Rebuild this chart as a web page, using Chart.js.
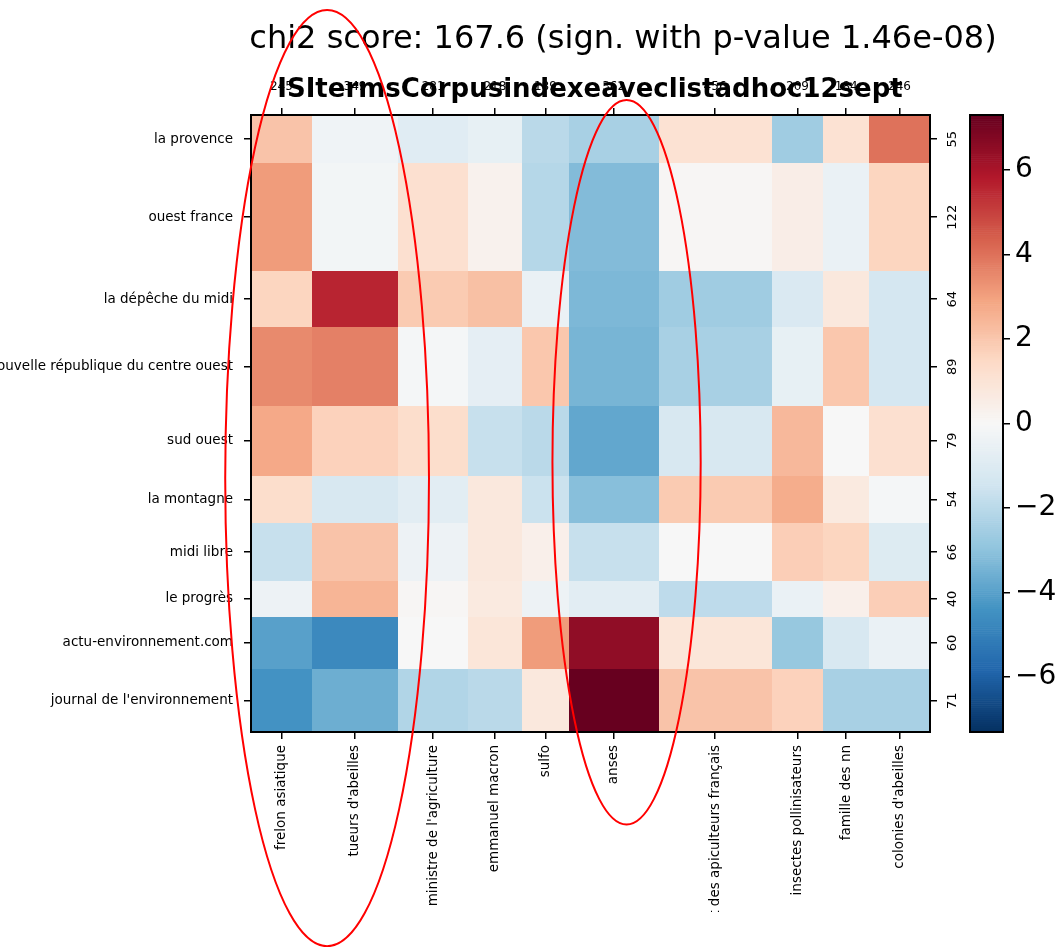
<!DOCTYPE html>
<html>
<head>
<meta charset="utf-8">
<script src="https://cdn.jsdelivr.net/npm/chart.js@4.4.1/dist/chart.umd.min.js"></script>
<style>
  body { margin: 0; background: #fff; }
  canvas { display: block; }
</style>
</head>
<body>
<canvas id="myChart" width="1061" height="947"></canvas>
<script>
// rows = newspapers, cols = terms
const rowLabels = ['la provence', 'ouest france', 'la dépêche du midi', 'nouvelle république du centre ouest',
  'sud ouest', 'la montagne', 'midi libre', 'le progrès', 'actu-environnement.com', "journal de l'environnement"]
const rowTotals = [55, 122, 64, 89, 79, 54, 66, 40, 60, 71]

const colLabels = ['frelon asiatique', "tueurs d'abeilles", "ministre de l'agriculture", 'emmanuel macron', 'sulfo',
  'anses', 'syndicat des apiculteurs français', 'insectes pollinisateurs', 'famille des nn', "colonies d'abeilles"]
const colTotals = [245, 349, 281, 218, 189, 362, 456, 209, 184, 246]

// standardized residuals, one list per row
const residuals = [
  [2.1, -0.3, -0.9, -0.6, -2.0, -2.4, 1.1, -2.6, 1.1, 4.0],
  [3.1, -0.2, 1.2, 0.3, -2.1, -3.2, 0.1, 0.5, -0.5, 1.6],
  [1.6, 5.6, 1.9, 2.2, -0.5, -3.3, -2.6, -1.1, 0.8, -1.3],
  [3.5, 3.7, -0.1, -0.7, 2.0, -3.4, -2.4, -0.6, 2.0, -1.3],
  [2.8, 1.7, 1.3, -1.7, -2.0, -3.8, -1.2, 2.4, 0.0, 1.2],
  [1.3, -1.2, -0.8, 0.8, -1.6, -3.1, 1.9, 2.7, 0.7, -0.1],
  [-1.7, 2.1, -0.4, 0.8, 0.4, -1.7, 0.0, 1.8, 1.6, -1.0],
  [-0.4, 2.5, 0.1, 0.7, -0.4, -0.8, -1.9, -0.5, 0.4, 1.8],
  [-4.0, -4.7, 0.0, 0.9, 3.1, 6.5, 0.9, -2.8, -1.2, -0.5],
  [-4.4, -3.6, -2.2, -2.0, 0.8, 7.3, 2.1, 1.7, -2.4, -2.4]
]

const vmax = 7.3
const cbTicks = [-6, -4, -2, 0, 2, 4, 6]

const title = 'chi2 score: 167.6 (sign. with p-value 1.46e-08)'
const subtitle = 'ISItermsCorpusindexeaveclistadhoc12sept'

// hand drawn red rings (in axis units)
const rings = [
  { cx: 307, cy: 412, rx: 411, ry: 531 },
  { cx: 1515, cy: 394, rx: 299, ry: 411 }
]

const font = 'DejaVu Sans'

function cumCenters(arr) {
  let s = 0
  return arr.map(v => { const c = s + v / 2; s += v; return c })
}
const colCenters = cumCenters(colTotals)
const rowCenters = cumCenters(rowTotals)
const totalCols = colTotals.reduce((a, b) => a + b, 0)
const totalRows = rowTotals.reduce((a, b) => a + b, 0)

// RdBu_r
const rdbu = ['#053061', '#2166ac', '#4393c3', '#92c5de', '#d1e5f0', '#f7f7f7',
  '#fddbc7', '#f4a582', '#d6604d', '#b2182b', '#67001f']
function hex(c) { return [1, 3, 5].map(i => parseInt(c.substr(i, 2), 16)) }
const rdbuRgb = rdbu.map(hex)
function colorFor(v) {
  let t = (v + vmax) / (2 * vmax)
  t = Math.max(0, Math.min(1, t)) * 10
  const i = Math.min(9, Math.floor(t))
  const f = t - i
  const a = rdbuRgb[i], b = rdbuRgb[i + 1]
  const c = a.map((x, k) => Math.round(x + (b[k] - x) * f))
  return 'rgb(' + c.join(',') + ')'
}

const heatmap = {
  id: 'heatmap',
  beforeDatasetsDraw(chart) {
    const { ctx, scales: { x, y } } = chart
    let r0 = 0
    rowTotals.forEach((rt, i) => {
      let c0 = 0
      colTotals.forEach((ct, j) => {
        const x0 = Math.round(x.getPixelForValue(c0)), x1 = Math.round(x.getPixelForValue(c0 + ct))
        const y0 = Math.round(y.getPixelForValue(r0)), y1 = Math.round(y.getPixelForValue(r0 + rt))
        ctx.fillStyle = colorFor(residuals[i][j])
        ctx.fillRect(x0, y0, x1 - x0, y1 - y0)
        c0 += ct
      })
      r0 += rt
    })
  },
  afterDraw(chart) {
    const { ctx, chartArea: a, scales: { x, y, cb } } = chart
    ctx.save()
    // colorbar
    const cbW = 33
    const steps = 300
    for (let k = 0; k < steps; k++) {
      const v0 = -vmax + (2 * vmax) * k / steps
      const v1 = -vmax + (2 * vmax) * (k + 1) / steps
      const p0 = cb.getPixelForValue(v0), p1 = cb.getPixelForValue(v1)
      ctx.fillStyle = colorFor((v0 + v1) / 2)
      ctx.fillRect(cb.left - cbW, p1, cbW, p0 - p1 + 0.6)
    }
    ctx.strokeStyle = '#000'
    ctx.lineWidth = 2
    ctx.strokeRect(cb.left - cbW, cb.top, cbW, cb.bottom - cb.top)
    ctx.strokeRect(a.left, a.top, a.right - a.left, a.bottom - a.top)

    // picture was cut here
    ctx.fillStyle = '#fff'
    ctx.fillRect(0, 912, chart.width, chart.height - 912)

    ctx.fillStyle = '#000'
    ctx.textAlign = 'center'
    ctx.textBaseline = 'middle'
    ctx.font = '32px "' + font + '"'
    ctx.fillText(title, 623, 40)
    ctx.font = 'bold 26px "' + font + '"'
    ctx.fillText(subtitle, 590, 90)

    ctx.strokeStyle = '#ff0000'
    ctx.lineWidth = 2
    rings.forEach(r => {
      const cx = x.getPixelForValue(r.cx), cy = y.getPixelForValue(r.cy)
      const rx = x.getPixelForValue(r.cx + r.rx) - cx
      const ry = y.getPixelForValue(r.cy + r.ry) - cy
      ctx.beginPath()
      ctx.ellipse(cx, cy, rx, ry, 0, 0, Math.PI * 2)
      ctx.stroke()
    })
    ctx.restore()
  }
}

const tickGrid = { drawOnChartArea: false, tickLength: 7, color: '#000', lineWidth: 1.5 }

const ctx = document.getElementById('myChart')

const config = {
  type: 'scatter',
  data: { datasets: [{ data: [] }] },
  options: {
    responsive: false,
    animation: false,
    devicePixelRatio: 1,
    layout: { padding: 0 },
    plugins: { legend: { display: false }, tooltip: { enabled: false } },
    scales: {
      x: {
        type: 'linear', position: 'bottom', min: 0, max: totalCols,
        afterBuildTicks: s => { s.ticks = colCenters.map(v => ({ value: v })) },
        afterFit: s => { s.height = 215 },
        ticks: { autoSkip: false, minRotation: 90, maxRotation: 90, padding: 6, color: '#000',
          font: { family: font, size: 13.5 }, callback: (v, i) => colLabels[i] },
        grid: tickGrid, border: { display: false }
      },
      x2: {
        type: 'linear', axis: 'x', position: 'top', min: 0, max: totalCols,
        afterBuildTicks: s => { s.ticks = colCenters.map(v => ({ value: v })) },
        afterFit: s => { s.height = 115 },
        ticks: { autoSkip: false, maxRotation: 0, padding: 14, color: '#000',
          font: { family: font, size: 12 }, callback: (v, i) => String(colTotals[i]) },
        grid: tickGrid, border: { display: false }
      },
      y: {
        type: 'linear', position: 'left', min: 0, max: totalRows, reverse: true,
        afterBuildTicks: s => { s.ticks = rowCenters.map(v => ({ value: v })) },
        afterFit: s => { s.width = 251 },
        ticks: { autoSkip: false, padding: 11, color: '#000',
          font: { family: font, size: 13.5 }, callback: (v, i) => rowLabels[i] },
        grid: tickGrid, border: { display: false }
      },
      y2: {
        type: 'linear', axis: 'y', position: 'right', weight: 0, min: 0, max: totalRows, reverse: true,
        afterBuildTicks: s => { s.ticks = rowCenters.map(v => ({ value: v })) },
        afterFit: s => { s.width = 73 },
        ticks: { autoSkip: false, minRotation: 90, maxRotation: 90, crossAlign: 'center', padding: 3, color: '#000',
          font: { family: font, size: 13 }, callback: (v, i) => String(rowTotals[i]) },
        grid: tickGrid, border: { display: false }
      },
      cb: {
        type: 'linear', axis: 'y', position: 'right', weight: 1, min: -vmax, max: vmax,
        afterBuildTicks: s => { s.ticks = cbTicks.map(v => ({ value: v })) },
        afterFit: s => { s.width = 58 },
        ticks: { autoSkip: false, padding: 5, color: '#000',
          font: { family: font, size: 28 }, callback: v => (v < 0 ? '\u2212' : '') + Math.abs(v) },
        grid: tickGrid, border: { display: false }
      }
    }
  },
  plugins: [heatmap]
}

const myChart = new Chart(ctx, config)
</script>
</body>
</html>
